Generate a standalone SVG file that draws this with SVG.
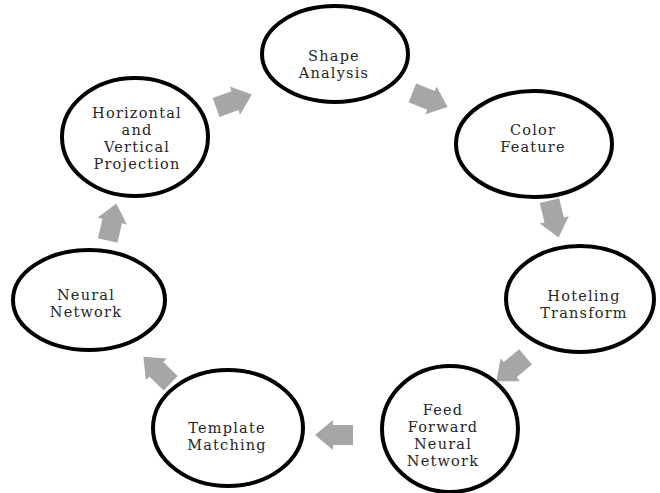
<svg xmlns="http://www.w3.org/2000/svg" width="660" height="493" viewBox="0 0 660 493">
  <defs>
    <style>
      .node { fill: #ffffff; stroke: #000000; stroke-width: 4; }
      .lbl { font-family: "DejaVu Serif", "Liberation Serif", serif; font-size: 14.5px; fill: #262626; text-anchor: middle; letter-spacing: 1.2px; }
      .arr { fill: #a6a6a6; }
    </style>
    <!-- block arrow pointing along +x, centred on the origin -->
    <polygon id="blockArrow" points="-19,-10 1,-10 1,-15 19,0 1,15 1,10 -19,10"/>
  </defs>
  <rect width="660" height="493" fill="#ffffff"/>

  <g id="connectors" class="arr">
    <use href="#blockArrow" transform="translate(234,101) rotate(-20)"/>
    <use href="#blockArrow" transform="translate(430,100) rotate(22)"/>
    <use href="#blockArrow" transform="translate(554,219) rotate(76)"/>
    <use href="#blockArrow" transform="translate(511,369) rotate(140)"/>
    <use href="#blockArrow" transform="translate(334,435) rotate(180)"/>
    <use href="#blockArrow" transform="translate(157,370) rotate(-136)"/>
    <use href="#blockArrow" transform="translate(112,222) rotate(-77)"/>
  </g>

  <g id="shape-analysis">
    <ellipse class="node" cx="335" cy="54" rx="73" ry="48"/>
    <text class="lbl" x="334" y="61">Shape</text>
    <text class="lbl" x="334" y="78">Analysis</text>
  </g>

  <g id="color-feature">
    <ellipse class="node" cx="534" cy="144" rx="78" ry="53"/>
    <text class="lbl" x="533" y="135">Color</text>
    <text class="lbl" x="533" y="152">Feature</text>
  </g>

  <g id="hoteling-transform">
    <ellipse class="node" cx="580" cy="299" rx="74" ry="53"/>
    <text class="lbl" x="584" y="301">Hoteling</text>
    <text class="lbl" x="584" y="318">Transform</text>
  </g>

  <g id="feed-forward-neural-network">
    <ellipse class="node" cx="450" cy="429" rx="68" ry="63"/>
    <text class="lbl" x="443" y="415">Feed</text>
    <text class="lbl" x="443" y="432">Forward</text>
    <text class="lbl" x="443" y="449">Neural</text>
    <text class="lbl" x="443" y="466">Network</text>
  </g>

  <g id="template-matching">
    <ellipse class="node" cx="228" cy="428" rx="75" ry="58"/>
    <text class="lbl" x="227" y="433">Template</text>
    <text class="lbl" x="227" y="450">Matching</text>
  </g>

  <g id="neural-network">
    <ellipse class="node" cx="89" cy="300" rx="76" ry="50"/>
    <text class="lbl" x="86" y="300">Neural</text>
    <text class="lbl" x="86" y="317">Network</text>
  </g>

  <g id="horizontal-vertical-projection">
    <ellipse class="node" cx="135" cy="137" rx="73" ry="59"/>
    <text class="lbl" x="137" y="118">Horizontal</text>
    <text class="lbl" x="137" y="135">and</text>
    <text class="lbl" x="137" y="152">Vertical</text>
    <text class="lbl" x="137" y="169">Projection</text>
  </g>
</svg>
